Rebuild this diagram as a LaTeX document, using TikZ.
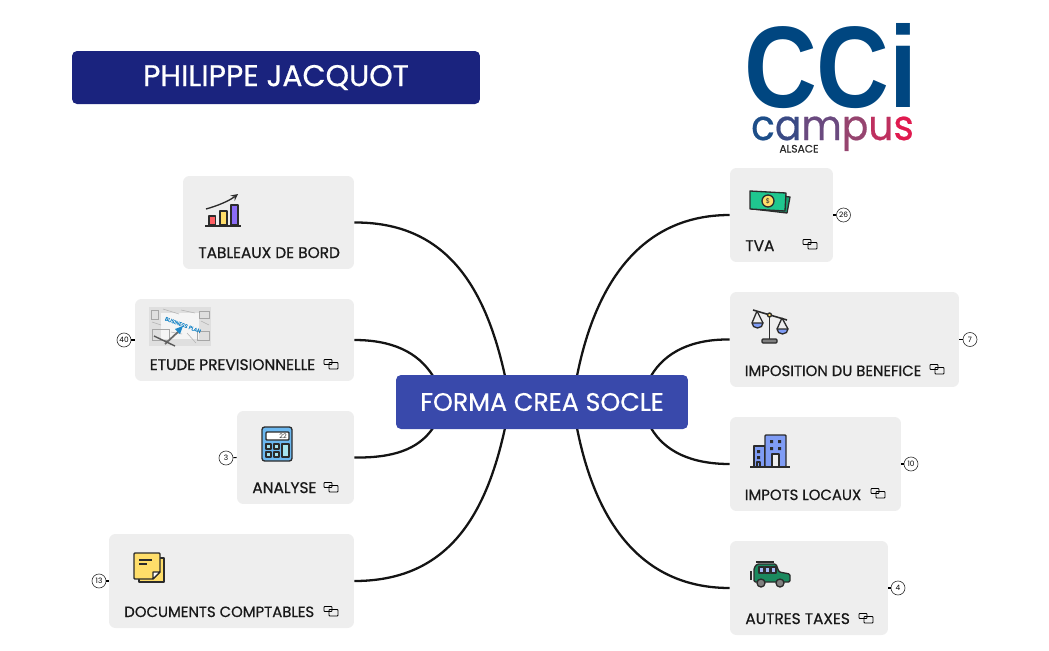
\documentclass[tikz,border=0pt]{standalone}
\usepackage{fontspec}
\setmainfont{Poppins}[FakeBold=0.6]
\newfontfamily\plainfont{Poppins}
\newfontfamily\cciFont{Liberation Sans Bold}[FakeStretch=0.87]
\newfontfamily\campusFont{Poppins}[FakeStretch=0.93,FakeBold=0.5]
\definecolor{boxGray}{HTML}{EEEEEE}
\definecolor{rootBlue}{HTML}{3949AB}
\definecolor{titleBlue}{HTML}{1A237E}
\definecolor{inkDark}{HTML}{2B2B2B}
\definecolor{cciBlue}{HTML}{004680}
\definecolor{iconYellow}{HTML}{FFDE6A}
\definecolor{iconRed}{HTML}{FF5F63}
\definecolor{iconPurple}{HTML}{8B6CF6}
\definecolor{iconBlue}{HTML}{6CB8F0}
\definecolor{iconCyan}{HTML}{A6E3EE}
\definecolor{iconGreen}{HTML}{1FC78F}
\definecolor{iconPeri}{HTML}{7F9CF5}
\definecolor{carGreen}{HTML}{1B8A5F}
\definecolor{planBlue}{HTML}{1E88C8}
\tikzset{
    icon/.style={draw=inkDark, line width=0.75pt, line join=round},
    pics/linkicon/.style={code={
        \draw[line width=0.5pt, rounded corners=0.4pt] (-7,-4.5) rectangle (1,0.5);
        \draw[line width=0.5pt, rounded corners=0.4pt, fill=boxGray] (-2,-1.5) rectangle (7,5);
        \draw[line width=0.5pt, rounded corners=0.4pt] (-2,0.5) -- (1,0.5) -- (1,-1.5);
    }},
    pics/charticon/.style={code={
        \draw[icon, fill=iconRed] (4,22) rectangle (10.5,31);
        \draw[icon, fill=iconYellow] (15,17) rectangle (22,31);
        \draw[icon, fill=iconPurple] (26,11) rectangle (33,31);
        \draw[icon] (0,32) -- (36,32);
        \draw[icon, ->, >=stealth] (1,15) .. controls (12,12) and (24,7) .. (33,0);
    }},
    pics/calcicon/.style={code={
        \draw[icon, fill=iconBlue, rounded corners=1.5pt] (0,0) rectangle (30,34);
        \draw[icon, fill=white, rounded corners=0.5pt] (4,5) rectangle (27,13);
        \node[font=\plainfont\fontsize{3.6}{4}\selectfont, text=inkDark, inner sep=0pt] (calcText) at (21,9) {22};
        \draw[icon, fill=iconCyan] (4,17) rectangle (9,22);
        \draw[icon, fill=iconCyan] (12,17) rectangle (17,22);
        \draw[icon, fill=iconCyan] (4,25) rectangle (9,30);
        \draw[icon, fill=iconCyan] (12,25) rectangle (17,30);
        \draw[icon, fill=iconCyan] (20,17) rectangle (27,30);
    }},
    pics/noteicon/.style={code={
        \draw[icon, fill=iconYellow] (5,5) rectangle (30,29);
        \draw[icon, fill=iconYellow, rounded corners=0.5pt] (0,0) -- (26,0) -- (26,19) -- (19,26) -- (0,26) -- cycle;
        \draw[icon, fill=white] (26,19) -- (19,19) -- (19,26) -- cycle;
        \draw[icon] (5,7) -- (18,7);
        \draw[icon] (5,11) -- (13,11);
    }},
    pics/cashicon/.style={code={
        \draw[icon, fill=iconGreen!80!black] (5,2) -- (40,6) -- (37,22) -- (3,18) -- cycle;
        \draw[icon, fill=iconGreen] (0,0) -- (36,2) -- (35,20) -- (0,18) -- cycle;
        \draw[icon, fill=iconYellow] (18,10) circle (6);
        \node[font=\plainfont\fontsize{3.8}{4}\selectfont, text=inkDark, inner sep=0pt] (cashText) at (18,10) {\$};
    }},
    pics/scaleicon/.style={code={
        \draw[icon, line width=0.9pt] (0,0) -- (34,10);
        \draw[icon, line width=0.9pt] (16.5,5) -- (16.5,30);
        \draw[icon, fill=inkDark!60, rounded corners=0.6pt] (9,29) rectangle (24,33);
        \draw[icon] (4,1) -- (-1,13) (4,1) -- (10,13);
        \draw[icon] (29,8) -- (24,19) (29,8) -- (35,19);
        \draw[icon, fill=iconPeri] (-1,13) -- (10,13) arc (0:180:5.5 and 5) -- cycle;
        \draw[icon, fill=iconPeri] (24,19) -- (35,19) arc (0:180:5.5 and 5) -- cycle;
        \draw[icon, fill=iconYellow] (16.5,5) circle (2);
    }},
    pics/buildingicon/.style={code={
        \draw[icon, fill=iconPeri] (4,11) rectangle (15,32);
        \draw[icon, fill=iconPeri, rounded corners=0.5pt] (15,0) rectangle (36,32);
        \draw[icon, fill=boxGray] (22,32) -- (22,19) -- (29,19) -- (29,32);
        \fill[inkDark] (20,5) rectangle (23,8) (28,5) rectangle (31,8) (20,12) rectangle (23,15) (28,12) rectangle (31,15);
        \fill[inkDark] (7,15) rectangle (10,18) (7,21) rectangle (10,24);
        \draw[icon] (7,32) -- (7,27) -- (10,27) -- (10,32);
        \draw[icon] (0,32) -- (40,32);
    }},
    pics/caricon/.style={code={
        \draw[icon] (5,1) -- (23,1);
        \draw[icon, fill=carGreen, rounded corners=0.8pt] (3,21) -- (3,7) -- (6,3) -- (25,3) -- (28,11) -- (39,13) -- (39,21) -- cycle;
        \draw[icon, fill=iconPeri!70!white] (8,6) rectangle (13,12) (14,6) rectangle (19,12) (20,6) rectangle (25,12);
        \draw[icon, line width=1.2pt] (0,10) -- (0,19);
        \draw[icon, fill=gray] (10,22) circle (4);
        \draw[icon, fill=gray] (29,22) circle (4);
    }},
    pics/planicon/.style={code={
        \fill[gray!25] (0,0) rectangle (62,39);
        \fill[gray!8] (12,6) rectangle (50,32);
        \draw[gray!70, line width=0.3pt] (2,3) rectangle (9,12) (50,4) rectangle (60,11) (48,24) rectangle (60,33) (3,22) rectangle (20,33);
        \draw[gray!60, line width=0.3pt] (14,2) -- (30,7) (32,3) -- (46,6) (22,25) -- (33,27) (38,26) -- (47,36) (52,14) -- (60,18) (3,15) -- (12,18);
        \draw[inkDark!70, line width=1pt] (16,37) -- (30,24);
        \fill[planBlue] (34,19) -- (26,22) -- (31,27) -- cycle;
        \draw[gray!70!black, line width=0.8pt] (5,29) -- (26,39);
        \node[font=\fontsize{3}{4}\selectfont, text=planBlue, rotate=-20, inner sep=0pt] (planText) at (34,18) {BUSINESS PLAN};
    }},
}
\begin{document}
\begin{tikzpicture}[x=0.02cm, y=-0.02cm,
    box/.style={rectangle, fill=boxGray, rounded corners=3.6pt, inner sep=0pt},
    nodeText/.style={anchor=base west, inner sep=0pt, text=black!90, font=\fontsize{8.75}{10}\selectfont},
    nodeTextTight/.style={anchor=base west, inner sep=0pt, text=black!90, font=\fontsize{8.46}{10}\selectfont},
    badge/.style={circle, draw=black!80, line width=0.35pt, fill=white, minimum size=0.28cm, inner sep=0pt, font=\plainfont\fontsize{4.2}{5}\selectfont},
    stub/.style={line width=0.6pt},
    link/.style={line width=1.3pt, draw=black!92}]
    \useasboundingbox (0,0) rectangle (1049,650);

    % curves first, the boxes lie on top
    \coordinate (rootA) at (505,376);
    \coordinate (rootB) at (433,376);
    \coordinate (rootC) at (433,428);
    \coordinate (rootD) at (505,428);
    \coordinate (rootE) at (577,376);
    \coordinate (rootF) at (651,376);
    \coordinate (rootG) at (651,428);
    \coordinate (rootH) at (577,428);

    \node[box, minimum width=3.42cm, minimum height=1.86cm] (tableaux) at (268.5,222.5) {};
    \node[box, minimum width=4.38cm, minimum height=1.64cm] (etude) at (244.5,340) {};
    \node[box, minimum width=2.34cm, minimum height=1.86cm] (analyse) at (295.5,457.5) {};
    \node[box, minimum width=4.90cm, minimum height=1.88cm] (documents) at (231.5,581) {};
    \node[box, minimum width=2.06cm, minimum height=1.88cm] (tva) at (781.5,215) {};
    \node[box, minimum width=4.58cm, minimum height=1.90cm] (imposition) at (844.5,339.5) {};
    \node[box, minimum width=3.42cm, minimum height=1.88cm] (locaux) at (815.5,464) {};
    \node[box, minimum width=3.16cm, minimum height=1.88cm] (autres) at (809,588) {};

    \draw[link] (tableaux.east) .. controls (445,222) and (485,285) .. (rootA);
    \draw[link] (etude.east) .. controls (392,340) and (418,352) .. (rootB);
    \draw[link] (analyse.east) .. controls (392,458) and (418,450) .. (rootC);
    \draw[link] (documents.east) .. controls (445,581) and (485,520) .. (rootD);
    \draw[link] (tva.west) .. controls (640,215) and (595,285) .. (rootE);
    \draw[link] (imposition.west) .. controls (692,339) and (665,352) .. (rootF);
    \draw[link] (locaux.west) .. controls (692,464) and (665,452) .. (rootG);
    \draw[link] (autres.west) .. controls (640,588) and (595,520) .. (rootH);

    \node[rectangle, fill=rootBlue, rounded corners=2.8pt, minimum width=5.84cm, minimum height=1.08cm, text=white, inner sep=0pt, font=\fontsize{14.4}{16}\selectfont] (root) at (542,402) {FORMA CREA SOCLE};
    \node[rectangle, fill=titleBlue, rounded corners=2.8pt, minimum width=8.16cm, minimum height=1.06cm, text=white, inner sep=0pt, font=\fontsize{17}{19}\selectfont] (title) at (276,77.5) {PHILIPPE JACQUOT};

    % labels
    \node[nodeText] (tableauxText) at (198,258) {TABLEAUX DE BORD};
    \node[nodeText] (etudeText) at (149.5,370) {ETUDE PREVISIONNELLE};
    \node[nodeText] (analyseText) at (252,493) {ANALYSE};
    \node[nodeTextTight] (documentsText) at (124,617) {DOCUMENTS COMPTABLES};
    \node[nodeText] (tvaText) at (745,251) {TVA};
    \node[nodeTextTight] (impositionText) at (744.5,376) {IMPOSITION DU BENEFICE};
    \node[nodeTextTight] (locauxText) at (744.5,500) {IMPOTS LOCAUX};
    \node[nodeText] (autresText) at (745,624) {AUTRES TAXES};

    % badges
    \node[badge] (n40) at (124,340) {40};
    \node[badge] (n3) at (226,458) {3};
    \node[badge] (n13) at (99,581) {13};
    \node[badge] (n26) at (843.5,215) {26};
    \node[badge] (n7) at (970,339.5) {7};
    \node[badge] (n10) at (911,464) {10};
    \node[badge] (n4) at (898,588) {4};
    \draw[stub] (n40) -- (etude.west);
    \draw[stub] (n3) -- (analyse.west);
    \draw[stub] (n13) -- (documents.west);
    \draw[stub] (n26) -- (tva.east);
    \draw[stub] (n7) -- (imposition.east);
    \draw[stub] (n10) -- (locaux.east);
    \draw[stub] (n4) -- (autres.east);

    % icons
    \pic at (205,194) {charticon};
    \pic at (149,307) {planicon};
    \pic at (262,427) {calcicon};
    \pic at (134,553) {noteicon};
    \pic at (750,191) {cashicon};
    \pic at (753,310) {scaleicon};
    \pic at (750,435) {buildingicon};
    \pic at (751,561) {caricon};
    \pic at (331,364) {linkicon};
    \pic at (331,487) {linkicon};
    \pic at (331,611) {linkicon};
    \pic at (810,244) {linkicon};
    \pic at (937,369) {linkicon};
    \pic at (878,493) {linkicon};
    \pic at (866,618) {linkicon};

    % logo
    \node[inner sep=0pt, anchor=base, text=cciBlue, font=\cciFont\fontsize{66}{70}\selectfont] (cci) at (831,107) {CCi};
    \node[inner sep=0pt, anchor=base, font=\campusFont\fontsize{24}{28}\selectfont] (campus) at (832.5,140) {\textcolor[HTML]{1D4E89}{c}\textcolor[HTML]{3A4A85}{a}\textcolor[HTML]{6A4A7F}{m}\textcolor[HTML]{96446F}{p}\textcolor[HTML]{BE305F}{u}\textcolor[HTML]{E01A4F}{s}};
    \node[inner sep=0pt, anchor=base, text=inkDark, font=\fontsize{6.1}{7}\selectfont] (alsace) at (799,152.5) {ALSACE};
\end{tikzpicture}
\end{document}
